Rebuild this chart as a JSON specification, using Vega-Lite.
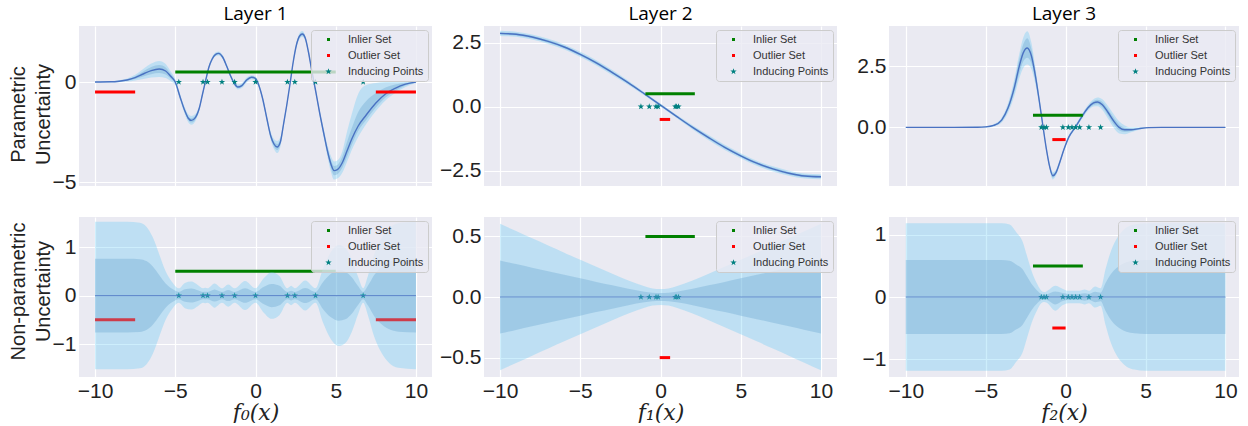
{
"$schema": "https://vega.github.io/schema/vega-lite/v6.json",
"padding": {"left": 8, "top": 5, "right": 0, "bottom": 0},
"columns": 3,
"bounds": "flush",
"spacing": {"row": 31, "column": 52},
"resolve": {"scale": {"color": "independent", "shape": "independent", "stroke": "independent"}, "legend": {"color": "independent", "shape": "independent"}},
"datasets": {
"tl": [
{"x":-10,"m":0,"lo2":-0.02,"lo1":-0.01,"hi1":0.01,"hi2":0.02},
{"x":-9,"m":0.01,"lo2":-0.02,"lo1":-0.005,"hi1":0.025,"hi2":0.04},
{"x":-8.5,"m":0.04,"lo2":-0.01,"lo1":0.015,"hi1":0.065,"hi2":0.09},
{"x":-8,"m":0.1,"lo2":0.02,"lo1":0.06,"hi1":0.14,"hi2":0.18},
{"x":-7.5,"m":0.22,"lo2":0.08,"lo1":0.15,"hi1":0.29,"hi2":0.36},
{"x":-7,"m":0.4,"lo2":0.15,"lo1":0.27,"hi1":0.53,"hi2":0.65},
{"x":-6.5,"m":0.57,"lo2":0.22,"lo1":0.39,"hi1":0.75,"hi2":0.92},
{"x":-6,"m":0.65,"lo2":0.25,"lo1":0.45,"hi1":0.85,"hi2":1.05},
{"x":-5.6,"m":0.55,"lo2":0.2,"lo1":0.37,"hi1":0.73,"hi2":0.9},
{"x":-5.3,"m":0.3,"lo2":0.05,"lo1":0.18,"hi1":0.42,"hi2":0.55},
{"x":-5,"m":0.0,"lo2":-0.15,"lo1":-0.08,"hi1":0.08,"hi2":0.15},
{"x":-4.7,"m":-0.75,"lo2":-0.9,"lo1":-0.83,"hi1":-0.67,"hi2":-0.6},
{"x":-4.4,"m":-1.45,"lo2":-1.62,"lo1":-1.54,"hi1":-1.36,"hi2":-1.28},
{"x":-4.2,"m":-1.8,"lo2":-2.0,"lo1":-1.9,"hi1":-1.7,"hi2":-1.6},
{"x":-4.0,"m":-1.92,"lo2":-2.14,"lo1":-2.03,"hi1":-1.81,"hi2":-1.7},
{"x":-3.75,"m":-1.78,"lo2":-1.96,"lo1":-1.87,"hi1":-1.69,"hi2":-1.6},
{"x":-3.5,"m":-1.3,"lo2":-1.42,"lo1":-1.36,"hi1":-1.24,"hi2":-1.18},
{"x":-3.3,"m":-0.6,"lo2":-0.7,"lo1":-0.65,"hi1":-0.55,"hi2":-0.5},
{"x":-3.1,"m":0.1,"lo2":0.0,"lo1":0.05,"hi1":0.15,"hi2":0.2},
{"x":-2.9,"m":0.75,"lo2":0.65,"lo1":0.7,"hi1":0.8,"hi2":0.85},
{"x":-2.7,"m":1.15,"lo2":1.05,"lo1":1.1,"hi1":1.2,"hi2":1.25},
{"x":-2.5,"m":1.37,"lo2":1.27,"lo1":1.32,"hi1":1.42,"hi2":1.47},
{"x":-2.3,"m":1.43,"lo2":1.33,"lo1":1.38,"hi1":1.48,"hi2":1.53},
{"x":-2.05,"m":1.25,"lo2":1.15,"lo1":1.2,"hi1":1.3,"hi2":1.35},
{"x":-1.8,"m":0.8,"lo2":0.7,"lo1":0.75,"hi1":0.85,"hi2":0.9},
{"x":-1.55,"m":0.3,"lo2":0.2,"lo1":0.25,"hi1":0.35,"hi2":0.4},
{"x":-1.3,"m":-0.1,"lo2":-0.2,"lo1":-0.15,"hi1":-0.05,"hi2":0.0},
{"x":-1.1,"m":-0.25,"lo2":-0.37,"lo1":-0.31,"hi1":-0.19,"hi2":-0.13},
{"x":-0.85,"m":-0.18,"lo2":-0.3,"lo1":-0.24,"hi1":-0.12,"hi2":-0.06},
{"x":-0.55,"m":0.1,"lo2":-0.02,"lo1":0.04,"hi1":0.16,"hi2":0.22},
{"x":-0.25,"m":0.24,"lo2":0.14,"lo1":0.19,"hi1":0.29,"hi2":0.34},
{"x":0.0,"m":0.18,"lo2":0.08,"lo1":0.13,"hi1":0.23,"hi2":0.28},
{"x":0.2,"m":-0.15,"lo2":-0.25,"lo1":-0.2,"hi1":-0.1,"hi2":-0.05},
{"x":0.45,"m":-0.85,"lo2":-0.97,"lo1":-0.91,"hi1":-0.79,"hi2":-0.73},
{"x":0.7,"m":-1.8,"lo2":-1.95,"lo1":-1.88,"hi1":-1.72,"hi2":-1.65},
{"x":0.95,"m":-2.7,"lo2":-2.9,"lo1":-2.8,"hi1":-2.6,"hi2":-2.5},
{"x":1.15,"m":-3.1,"lo2":-3.35,"lo1":-3.22,"hi1":-2.98,"hi2":-2.85},
{"x":1.35,"m":-3.25,"lo2":-3.55,"lo1":-3.4,"hi1":-3.1,"hi2":-2.95},
{"x":1.55,"m":-3.0,"lo2":-3.25,"lo1":-3.12,"hi1":-2.88,"hi2":-2.75},
{"x":1.75,"m":-2.1,"lo2":-2.25,"lo1":-2.18,"hi1":-2.02,"hi2":-1.95},
{"x":1.95,"m":-1.15,"lo2":-1.27,"lo1":-1.21,"hi1":-1.09,"hi2":-1.03},
{"x":2.15,"m":-0.1,"lo2":-0.2,"lo1":-0.15,"hi1":-0.05,"hi2":0.0},
{"x":2.35,"m":1.0,"lo2":0.9,"lo1":0.95,"hi1":1.05,"hi2":1.1},
{"x":2.55,"m":1.85,"lo2":1.73,"lo1":1.79,"hi1":1.91,"hi2":1.97},
{"x":2.75,"m":2.3,"lo2":2.15,"lo1":2.23,"hi1":2.37,"hi2":2.45},
{"x":2.92,"m":2.4,"lo2":2.25,"lo1":2.33,"hi1":2.47,"hi2":2.55},
{"x":3.1,"m":2.2,"lo2":2.08,"lo1":2.14,"hi1":2.26,"hi2":2.32},
{"x":3.3,"m":1.5,"lo2":1.4,"lo1":1.45,"hi1":1.55,"hi2":1.6},
{"x":3.5,"m":0.6,"lo2":0.5,"lo1":0.55,"hi1":0.65,"hi2":0.7},
{"x":3.75,"m":-0.45,"lo2":-0.55,"lo1":-0.5,"hi1":-0.4,"hi2":-0.35},
{"x":4.0,"m":-1.55,"lo2":-1.7,"lo1":-1.63,"hi1":-1.47,"hi2":-1.4},
{"x":4.25,"m":-2.55,"lo2":-2.75,"lo1":-2.65,"hi1":-2.45,"hi2":-2.35},
{"x":4.5,"m":-3.5,"lo2":-3.8,"lo1":-3.65,"hi1":-3.35,"hi2":-3.2},
{"x":4.7,"m":-4.1,"lo2":-4.5,"lo1":-4.3,"hi1":-3.9,"hi2":-3.7},
{"x":4.9,"m":-4.43,"lo2":-4.88,"lo1":-4.66,"hi1":-4.2,"hi2":-3.98},
{"x":5.1,"m":-4.38,"lo2":-4.83,"lo1":-4.61,"hi1":-4.15,"hi2":-3.93},
{"x":5.4,"m":-4.05,"lo2":-4.55,"lo1":-4.3,"hi1":-3.75,"hi2":-3.5},
{"x":5.7,"m":-3.45,"lo2":-4.0,"lo1":-3.75,"hi1":-3.0,"hi2":-2.5},
{"x":6.0,"m":-2.85,"lo2":-3.4,"lo1":-3.15,"hi1":-2.3,"hi2":-1.6},
{"x":6.4,"m":-2.2,"lo2":-2.75,"lo1":-2.45,"hi1":-1.5,"hi2":-0.6},
{"x":6.9,"m":-1.65,"lo2":-2.1,"lo1":-1.9,"hi1":-0.95,"hi2":-0.15},
{"x":7.5,"m":-1.05,"lo2":-1.45,"lo1":-1.28,"hi1":-0.55,"hi2":-0.05},
{"x":8.1,"m":-0.6,"lo2":-0.92,"lo1":-0.78,"hi1":-0.28,"hi2":0.0},
{"x":8.7,"m":-0.32,"lo2":-0.55,"lo1":-0.45,"hi1":-0.13,"hi2":0.0},
{"x":9.35,"m":-0.11,"lo2":-0.25,"lo1":-0.18,"hi1":-0.04,"hi2":0.0},
{"x":10,"m":0,"lo2":-0.05,"lo1":-0.03,"hi1":0.0,"hi2":0.0}
],
"tm": [
{"x":-10,"m":2.86,"lo2":2.76,"lo1":2.81,"hi1":2.91,"hi2":2.96},
{"x":-9,"m":2.83,"lo2":2.73,"lo1":2.78,"hi1":2.88,"hi2":2.93},
{"x":-8,"m":2.72,"lo2":2.62,"lo1":2.67,"hi1":2.77,"hi2":2.82},
{"x":-7,"m":2.55,"lo2":2.45,"lo1":2.5,"hi1":2.6,"hi2":2.65},
{"x":-6,"m":2.33,"lo2":2.23,"lo1":2.28,"hi1":2.38,"hi2":2.43},
{"x":-5,"m":2.04,"lo2":1.94,"lo1":1.99,"hi1":2.09,"hi2":2.14},
{"x":-4,"m":1.71,"lo2":1.61,"lo1":1.66,"hi1":1.76,"hi2":1.81},
{"x":-3,"m":1.33,"lo2":1.23,"lo1":1.28,"hi1":1.38,"hi2":1.43},
{"x":-2,"m":0.93,"lo2":0.85,"lo1":0.89,"hi1":0.97,"hi2":1.01},
{"x":-1,"m":0.5,"lo2":0.44,"lo1":0.47,"hi1":0.53,"hi2":0.56},
{"x":0,"m":0.06,"lo2":0.0,"lo1":0.03,"hi1":0.09,"hi2":0.12},
{"x":1,"m":-0.38,"lo2":-0.44,"lo1":-0.41,"hi1":-0.35,"hi2":-0.32},
{"x":2,"m":-0.81,"lo2":-0.89,"lo1":-0.85,"hi1":-0.77,"hi2":-0.73},
{"x":3,"m":-1.21,"lo2":-1.31,"lo1":-1.26,"hi1":-1.16,"hi2":-1.11},
{"x":4,"m":-1.59,"lo2":-1.69,"lo1":-1.64,"hi1":-1.54,"hi2":-1.49},
{"x":5,"m":-1.92,"lo2":-2.02,"lo1":-1.97,"hi1":-1.87,"hi2":-1.82},
{"x":6,"m":-2.21,"lo2":-2.31,"lo1":-2.26,"hi1":-2.16,"hi2":-2.11},
{"x":7,"m":-2.43,"lo2":-2.53,"lo1":-2.48,"hi1":-2.38,"hi2":-2.33},
{"x":8,"m":-2.6,"lo2":-2.7,"lo1":-2.65,"hi1":-2.55,"hi2":-2.5},
{"x":9,"m":-2.71,"lo2":-2.81,"lo1":-2.76,"hi1":-2.66,"hi2":-2.61},
{"x":10,"m":-2.74,"lo2":-2.84,"lo1":-2.79,"hi1":-2.69,"hi2":-2.64}
],
"tr": [
{"x":-10,"m":0,"lo2":-0.02,"lo1":-0.01,"hi1":0.01,"hi2":0.02},
{"x":-7,"m":0,"lo2":-0.02,"lo1":-0.01,"hi1":0.01,"hi2":0.02},
{"x":-5.5,"m":0.005,"lo2":-0.015,"lo1":-0.005,"hi1":0.015,"hi2":0.025},
{"x":-5,"m":0.02,"lo2":-0.01,"lo1":0.005,"hi1":0.035,"hi2":0.05},
{"x":-4.5,"m":0.08,"lo2":0.03,"lo1":0.055,"hi1":0.105,"hi2":0.13},
{"x":-4.0,"m":0.3,"lo2":0.2,"lo1":0.25,"hi1":0.35,"hi2":0.4},
{"x":-3.6,"m":0.8,"lo2":0.6,"lo1":0.7,"hi1":0.9,"hi2":1.0},
{"x":-3.2,"m":1.65,"lo2":1.3,"lo1":1.45,"hi1":1.85,"hi2":2.0},
{"x":-2.9,"m":2.5,"lo2":2.0,"lo1":2.2,"hi1":2.8,"hi2":3.0},
{"x":-2.65,"m":3.05,"lo2":2.43,"lo1":2.7,"hi1":3.4,"hi2":3.67},
{"x":-2.4,"m":3.25,"lo2":2.57,"lo1":2.85,"hi1":3.65,"hi2":3.93},
{"x":-2.15,"m":2.95,"lo2":2.4,"lo1":2.65,"hi1":3.25,"hi2":3.5},
{"x":-1.9,"m":2.15,"lo2":1.8,"lo1":1.95,"hi1":2.35,"hi2":2.5},
{"x":-1.65,"m":1.1,"lo2":0.9,"lo1":1.0,"hi1":1.2,"hi2":1.3},
{"x":-1.45,"m":0.2,"lo2":0.08,"lo1":0.14,"hi1":0.26,"hi2":0.32},
{"x":-1.2,"m":-0.9,"lo2":-1.0,"lo1":-0.95,"hi1":-0.85,"hi2":-0.8},
{"x":-1.0,"m":-1.6,"lo2":-1.72,"lo1":-1.66,"hi1":-1.54,"hi2":-1.48},
{"x":-0.8,"m":-1.98,"lo2":-2.13,"lo1":-2.06,"hi1":-1.9,"hi2":-1.83},
{"x":-0.6,"m":-1.85,"lo2":-1.97,"lo1":-1.91,"hi1":-1.79,"hi2":-1.73},
{"x":-0.4,"m":-1.5,"lo2":-1.6,"lo1":-1.55,"hi1":-1.45,"hi2":-1.4},
{"x":-0.1,"m":-0.9,"lo2":-0.98,"lo1":-0.94,"hi1":-0.86,"hi2":-0.82},
{"x":0.2,"m":-0.4,"lo2":-0.48,"lo1":-0.44,"hi1":-0.36,"hi2":-0.32},
{"x":0.6,"m":0.0,"lo2":-0.08,"lo1":-0.04,"hi1":0.04,"hi2":0.08},
{"x":1.0,"m":0.42,"lo2":0.32,"lo1":0.37,"hi1":0.47,"hi2":0.52},
{"x":1.4,"m":0.8,"lo2":0.68,"lo1":0.74,"hi1":0.86,"hi2":0.92},
{"x":1.75,"m":1.0,"lo2":0.85,"lo1":0.92,"hi1":1.08,"hi2":1.15},
{"x":2.0,"m":1.04,"lo2":0.86,"lo1":0.95,"hi1":1.13,"hi2":1.22},
{"x":2.3,"m":0.93,"lo2":0.71,"lo1":0.82,"hi1":1.04,"hi2":1.15},
{"x":2.65,"m":0.62,"lo2":0.36,"lo1":0.49,"hi1":0.75,"hi2":0.88},
{"x":3.0,"m":0.27,"lo2":-0.01,"lo1":0.13,"hi1":0.41,"hi2":0.55},
{"x":3.35,"m":0.0,"lo2":-0.25,"lo1":-0.12,"hi1":0.12,"hi2":0.25},
{"x":3.7,"m":-0.1,"lo2":-0.28,"lo1":-0.19,"hi1":-0.01,"hi2":0.08},
{"x":4.1,"m":-0.1,"lo2":-0.2,"lo1":-0.15,"hi1":-0.05,"hi2":0.0},
{"x":4.6,"m":-0.05,"lo2":-0.1,"lo1":-0.075,"hi1":-0.025,"hi2":0.0},
{"x":5.2,"m":-0.01,"lo2":-0.03,"lo1":-0.02,"hi1":0.0,"hi2":0.01},
{"x":6,"m":0,"lo2":-0.02,"lo1":-0.01,"hi1":0.01,"hi2":0.02},
{"x":10,"m":0,"lo2":-0.02,"lo1":-0.01,"hi1":0.01,"hi2":0.02}
],
"bl": [
{"x":-10,"m":0,"lo2":-1.52,"lo1":-0.76,"hi1":0.76,"hi2":1.52},
{"x":-8,"m":0,"lo2":-1.52,"lo1":-0.76,"hi1":0.76,"hi2":1.52},
{"x":-7.2,"m":0,"lo2":-1.5,"lo1":-0.75,"hi1":0.75,"hi2":1.5},
{"x":-6.8,"m":0,"lo2":-1.42,"lo1":-0.71,"hi1":0.71,"hi2":1.42},
{"x":-6.4,"m":0,"lo2":-1.2,"lo1":-0.6,"hi1":0.6,"hi2":1.2},
{"x":-6.0,"m":0,"lo2":-0.85,"lo1":-0.425,"hi1":0.425,"hi2":0.85},
{"x":-5.6,"m":0,"lo2":-0.5,"lo1":-0.25,"hi1":0.25,"hi2":0.5},
{"x":-5.2,"m":0,"lo2":-0.28,"lo1":-0.14,"hi1":0.14,"hi2":0.28},
{"x":-4.78,"m":0,"lo2":-0.15,"lo1":-0.075,"hi1":0.075,"hi2":0.15},
{"x":-4.4,"m":0,"lo2":-0.26,"lo1":-0.13,"hi1":0.13,"hi2":0.26},
{"x":-4.0,"m":0,"lo2":-0.29,"lo1":-0.145,"hi1":0.145,"hi2":0.29},
{"x":-3.6,"m":0,"lo2":-0.22,"lo1":-0.11,"hi1":0.11,"hi2":0.22},
{"x":-3.27,"m":0,"lo2":-0.15,"lo1":-0.075,"hi1":0.075,"hi2":0.15},
{"x":-3.13,"m":0,"lo2":-0.16,"lo1":-0.08,"hi1":0.08,"hi2":0.16},
{"x":-2.99,"m":0,"lo2":-0.15,"lo1":-0.075,"hi1":0.075,"hi2":0.15},
{"x":-2.55,"m":0,"lo2":-0.25,"lo1":-0.125,"hi1":0.125,"hi2":0.25},
{"x":-2.09,"m":0,"lo2":-0.15,"lo1":-0.075,"hi1":0.075,"hi2":0.15},
{"x":-1.7,"m":0,"lo2":-0.23,"lo1":-0.115,"hi1":0.115,"hi2":0.23},
{"x":-1.3,"m":0,"lo2":-0.15,"lo1":-0.075,"hi1":0.075,"hi2":0.15},
{"x":-0.65,"m":0,"lo2":-0.3,"lo1":-0.15,"hi1":0.15,"hi2":0.3},
{"x":0,"m":0,"lo2":-0.15,"lo1":-0.075,"hi1":0.075,"hi2":0.15},
{"x":0.5,"m":0,"lo2":-0.35,"lo1":-0.175,"hi1":0.175,"hi2":0.35},
{"x":1.0,"m":0,"lo2":-0.48,"lo1":-0.24,"hi1":0.24,"hi2":0.48},
{"x":1.5,"m":0,"lo2":-0.4,"lo1":-0.2,"hi1":0.2,"hi2":0.4},
{"x":1.99,"m":0,"lo2":-0.15,"lo1":-0.075,"hi1":0.075,"hi2":0.15},
{"x":2.22,"m":0,"lo2":-0.2,"lo1":-0.1,"hi1":0.1,"hi2":0.2},
{"x":2.45,"m":0,"lo2":-0.15,"lo1":-0.075,"hi1":0.075,"hi2":0.15},
{"x":3.1,"m":0,"lo2":-0.31,"lo1":-0.155,"hi1":0.155,"hi2":0.31},
{"x":3.74,"m":0,"lo2":-0.15,"lo1":-0.075,"hi1":0.075,"hi2":0.15},
{"x":4.2,"m":0,"lo2":-0.55,"lo1":-0.275,"hi1":0.275,"hi2":0.55},
{"x":4.7,"m":0,"lo2":-0.9,"lo1":-0.45,"hi1":0.45,"hi2":0.9},
{"x":5.2,"m":0,"lo2":-1.04,"lo1":-0.52,"hi1":0.52,"hi2":1.04},
{"x":5.6,"m":0,"lo2":-0.98,"lo1":-0.49,"hi1":0.49,"hi2":0.98},
{"x":6.0,"m":0,"lo2":-0.75,"lo1":-0.375,"hi1":0.375,"hi2":0.75},
{"x":6.4,"m":0,"lo2":-0.38,"lo1":-0.19,"hi1":0.19,"hi2":0.38},
{"x":6.71,"m":0,"lo2":-0.15,"lo1":-0.075,"hi1":0.075,"hi2":0.15},
{"x":7.0,"m":0,"lo2":-0.4,"lo1":-0.2,"hi1":0.2,"hi2":0.4},
{"x":7.4,"m":0,"lo2":-0.85,"lo1":-0.425,"hi1":0.425,"hi2":0.85},
{"x":7.8,"m":0,"lo2":-1.15,"lo1":-0.575,"hi1":0.575,"hi2":1.15},
{"x":8.3,"m":0,"lo2":-1.38,"lo1":-0.69,"hi1":0.69,"hi2":1.38},
{"x":8.9,"m":0,"lo2":-1.49,"lo1":-0.745,"hi1":0.745,"hi2":1.49},
{"x":10,"m":0,"lo2":-1.52,"lo1":-0.76,"hi1":0.76,"hi2":1.52}
],
"bm": [
{"x":-10,"m":0,"lo2":-0.604,"lo1":-0.302,"hi1":0.302,"hi2":0.604},
{"x":-9,"m":0,"lo2":-0.544,"lo1":-0.272,"hi1":0.272,"hi2":0.544},
{"x":-8,"m":0,"lo2":-0.484,"lo1":-0.242,"hi1":0.242,"hi2":0.484},
{"x":-7,"m":0,"lo2":-0.425,"lo1":-0.213,"hi1":0.213,"hi2":0.425},
{"x":-6,"m":0,"lo2":-0.366,"lo1":-0.183,"hi1":0.183,"hi2":0.366},
{"x":-5,"m":0,"lo2":-0.307,"lo1":-0.154,"hi1":0.154,"hi2":0.307},
{"x":-4,"m":0,"lo2":-0.249,"lo1":-0.124,"hi1":0.124,"hi2":0.249},
{"x":-3,"m":0,"lo2":-0.191,"lo1":-0.096,"hi1":0.096,"hi2":0.191},
{"x":-2,"m":0,"lo2":-0.136,"lo1":-0.068,"hi1":0.068,"hi2":0.136},
{"x":-1,"m":0,"lo2":-0.089,"lo1":-0.044,"hi1":0.044,"hi2":0.089},
{"x":-0.5,"m":0,"lo2":-0.071,"lo1":-0.036,"hi1":0.036,"hi2":0.071},
{"x":0,"m":0,"lo2":-0.065,"lo1":-0.033,"hi1":0.033,"hi2":0.065},
{"x":0.5,"m":0,"lo2":-0.071,"lo1":-0.036,"hi1":0.036,"hi2":0.071},
{"x":1,"m":0,"lo2":-0.089,"lo1":-0.044,"hi1":0.044,"hi2":0.089},
{"x":2,"m":0,"lo2":-0.136,"lo1":-0.068,"hi1":0.068,"hi2":0.136},
{"x":3,"m":0,"lo2":-0.191,"lo1":-0.096,"hi1":0.096,"hi2":0.191},
{"x":4,"m":0,"lo2":-0.249,"lo1":-0.124,"hi1":0.124,"hi2":0.249},
{"x":5,"m":0,"lo2":-0.307,"lo1":-0.154,"hi1":0.154,"hi2":0.307},
{"x":6,"m":0,"lo2":-0.366,"lo1":-0.183,"hi1":0.183,"hi2":0.366},
{"x":7,"m":0,"lo2":-0.425,"lo1":-0.213,"hi1":0.213,"hi2":0.425},
{"x":8,"m":0,"lo2":-0.484,"lo1":-0.242,"hi1":0.242,"hi2":0.484},
{"x":9,"m":0,"lo2":-0.544,"lo1":-0.272,"hi1":0.272,"hi2":0.544},
{"x":10,"m":0,"lo2":-0.604,"lo1":-0.302,"hi1":0.302,"hi2":0.604}
],
"br": [
{"x":-10,"m":0,"lo2":-1.19,"lo1":-0.595,"hi1":0.595,"hi2":1.19},
{"x":-4,"m":0,"lo2":-1.19,"lo1":-0.595,"hi1":0.595,"hi2":1.19},
{"x":-3.5,"m":0,"lo2":-1.17,"lo1":-0.585,"hi1":0.585,"hi2":1.17},
{"x":-3.1,"m":0,"lo2":-1.05,"lo1":-0.525,"hi1":0.525,"hi2":1.05},
{"x":-2.7,"m":0,"lo2":-0.9,"lo1":-0.45,"hi1":0.45,"hi2":0.9},
{"x":-2.4,"m":0,"lo2":-0.65,"lo1":-0.325,"hi1":0.325,"hi2":0.65},
{"x":-2.1,"m":0,"lo2":-0.4,"lo1":-0.2,"hi1":0.2,"hi2":0.4},
{"x":-1.8,"m":0,"lo2":-0.22,"lo1":-0.11,"hi1":0.11,"hi2":0.22},
{"x":-1.52,"m":0,"lo2":-0.1,"lo1":-0.05,"hi1":0.05,"hi2":0.1},
{"x":-1.35,"m":0,"lo2":-0.08,"lo1":-0.04,"hi1":0.04,"hi2":0.08},
{"x":-1.2,"m":0,"lo2":-0.09,"lo1":-0.045,"hi1":0.045,"hi2":0.09},
{"x":-0.65,"m":0,"lo2":-0.22,"lo1":-0.12,"hi1":0.09,"hi2":0.18},
{"x":-0.17,"m":0,"lo2":-0.13,"lo1":-0.065,"hi1":0.065,"hi2":0.13},
{"x":0.17,"m":0,"lo2":-0.1,"lo1":-0.05,"hi1":0.05,"hi2":0.1},
{"x":0.5,"m":0,"lo2":-0.1,"lo1":-0.05,"hi1":0.05,"hi2":0.1},
{"x":0.88,"m":0,"lo2":-0.1,"lo1":-0.05,"hi1":0.05,"hi2":0.1},
{"x":1.2,"m":0,"lo2":-0.12,"lo1":-0.06,"hi1":0.06,"hi2":0.12},
{"x":1.46,"m":0,"lo2":-0.1,"lo1":-0.05,"hi1":0.05,"hi2":0.1},
{"x":1.85,"m":0,"lo2":-0.17,"lo1":-0.085,"hi1":0.085,"hi2":0.17},
{"x":2.19,"m":0,"lo2":-0.14,"lo1":-0.07,"hi1":0.07,"hi2":0.14},
{"x":2.5,"m":0,"lo2":-0.45,"lo1":-0.225,"hi1":0.225,"hi2":0.45},
{"x":2.85,"m":0,"lo2":-0.75,"lo1":-0.375,"hi1":0.375,"hi2":0.75},
{"x":3.15,"m":0,"lo2":-0.92,"lo1":-0.46,"hi1":0.46,"hi2":0.92},
{"x":3.5,"m":0,"lo2":-1.05,"lo1":-0.525,"hi1":0.525,"hi2":1.05},
{"x":3.8,"m":0,"lo2":-1.12,"lo1":-0.56,"hi1":0.56,"hi2":1.12},
{"x":4.3,"m":0,"lo2":-1.17,"lo1":-0.585,"hi1":0.585,"hi2":1.17},
{"x":5,"m":0,"lo2":-1.19,"lo1":-0.595,"hi1":0.595,"hi2":1.19},
{"x":10,"m":0,"lo2":-1.19,"lo1":-0.595,"hi1":0.595,"hi2":1.19}
],
"s1": [
{"x":-4.78,"y":0,"set":"Inducing Points"},{"x":-3.27,"y":0,"set":"Inducing Points"},{"x":-2.99,"y":0,"set":"Inducing Points"},{"x":-2.09,"y":0,"set":"Inducing Points"},{"x":-1.3,"y":0,"set":"Inducing Points"},{"x":0,"y":0,"set":"Inducing Points"},{"x":1.99,"y":0,"set":"Inducing Points"},{"x":2.45,"y":0,"set":"Inducing Points"},{"x":3.74,"y":0,"set":"Inducing Points"},{"x":6.71,"y":0,"set":"Inducing Points"}
],
"s2": [
{"x":-1.22,"y":0,"set":"Inducing Points"},{"x":-0.7,"y":0,"set":"Inducing Points"},{"x":-0.28,"y":0,"set":"Inducing Points"},{"x":-0.15,"y":0,"set":"Inducing Points"},{"x":0.92,"y":0,"set":"Inducing Points"},{"x":1.0,"y":0,"set":"Inducing Points"},{"x":1.12,"y":0,"set":"Inducing Points"}
],
"s3": [
{"x":-1.52,"y":0,"set":"Inducing Points"},{"x":-1.35,"y":0,"set":"Inducing Points"},{"x":-1.2,"y":0,"set":"Inducing Points"},{"x":-0.17,"y":0,"set":"Inducing Points"},{"x":0.17,"y":0,"set":"Inducing Points"},{"x":0.4,"y":0,"set":"Inducing Points"},{"x":0.63,"y":0,"set":"Inducing Points"},{"x":0.88,"y":0,"set":"Inducing Points"},{"x":1.46,"y":0,"set":"Inducing Points"},{"x":2.19,"y":0,"set":"Inducing Points"}
],
"sets1": [
{"set":"Inlier Set","x0":-5,"x1":5,"y":0.5},
{"set":"Outlier Set","x0":-10,"x1":-7.5,"y":-0.5},
{"set":"Outlier Set","x0":7.5,"x1":10,"y":-0.5}
],
"sets2": [
{"set":"Inlier Set","x0":-0.94,"x1":2.14,"y":0.5},
{"set":"Outlier Set","x0":-0.05,"x1":0.6,"y":-0.5}
],
"sets3": [
{"set":"Inlier Set","x0":-2.04,"x1":1.08,"y":0.5},
{"set":"Outlier Set","x0":-0.83,"x1":0.0,"y":-0.5}
]
},
"concat": [
{
"width": 353, "height": 160,
"title": "Layer 1",
"layer": [
{"data": {"name": "tl"}, "mark": {"type": "area", "color": "#6C94BF", "opacity": 0.35, "interpolate": "monotone"},
 "encoding": {"x": {"field": "x", "type": "quantitative", "scale": {"domain": [-11, 11], "nice": false, "zero": false}, "axis": {"values": [-10, -5, 0, 5, 10], "labels": false, "title": null}},
  "y": {"field": "lo1", "type": "quantitative", "scale": {"domain": [-5.2, 2.8], "nice": false, "zero": false}, "axis": {"values": [-5, 0], "format": "d", "title": ["Parametric", "Uncertainty"], "titleY": 88, "minExtent": 26, "maxExtent": 26}},
  "y2": {"field": "hi1"}}},
{"data": {"name": "tl"}, "mark": {"type": "area", "color": "#5AC8F5", "opacity": 0.3, "interpolate": "monotone"},
 "encoding": {"x": {"field": "x", "type": "quantitative"}, "y": {"field": "lo2", "type": "quantitative"}, "y2": {"field": "hi2"}}},
{"data": {"name": "tl"}, "mark": {"type": "line", "color": "#4A72C2", "strokeWidth": 1.4, "interpolate": "monotone"},
 "encoding": {"x": {"field": "x", "type": "quantitative"}, "y": {"field": "m", "type": "quantitative"}}},
{"data": {"name": "sets1"}, "mark": {"type": "rule", "strokeWidth": 3},
 "encoding": {"x": {"field": "x0", "type": "quantitative"}, "x2": {"field": "x1"}, "y": {"field": "y", "type": "quantitative"},
  "stroke": {"field": "set", "type": "nominal", "scale": {"domain": ["Inlier Set", "Outlier Set"], "range": ["#008000", "#FF0000"]}, "legend": null}}},
{"data": {"name": "s1"}, "mark": {"type": "point", "filled": true, "opacity": 1, "size": 45},
 "encoding": {"x": {"field": "x", "type": "quantitative"}, "y": {"field": "y", "type": "quantitative"},
  "color": {"field": "set", "type": "nominal", "scale": {"domain": ["Inlier Set", "Outlier Set", "Inducing Points"], "range": ["#008000", "#FF0000", "#008080"]}, "legend": {"title": null, "zindex": 1}},
  "shape": {"field": "set", "type": "nominal", "scale": {"domain": ["Inlier Set", "Outlier Set", "Inducing Points"], "range": ["M-0.45,-0.45H0.45V0.45H-0.45Z", "M-0.45,-0.45H0.45V0.45H-0.45Z", "M0,-1L0.235,-0.324L0.951,-0.309L0.38,0.124L0.588,0.809L0,0.4L-0.588,0.809L-0.38,0.124L-0.951,-0.309L-0.235,-0.324Z"]}, "legend": {"title": null, "zindex": 1}}}}
]
},
{
"width": 353, "height": 160,
"title": "Layer 2",
"layer": [
{"data": {"name": "tm"}, "mark": {"type": "area", "color": "#6C94BF", "opacity": 0.35, "interpolate": "monotone"},
 "encoding": {"x": {"field": "x", "type": "quantitative", "scale": {"domain": [-11, 11], "nice": false, "zero": false}, "axis": {"values": [-10, -5, 0, 5, 10], "labels": false, "title": null}},
  "y": {"field": "lo1", "type": "quantitative", "scale": {"domain": [-3.1, 3.15], "nice": false, "zero": false}, "axis": {"values": [-2.5, 0, 2.5], "format": ".1f", "title": null}},
  "y2": {"field": "hi1"}}},
{"data": {"name": "tm"}, "mark": {"type": "area", "color": "#5AC8F5", "opacity": 0.3, "interpolate": "monotone"},
 "encoding": {"x": {"field": "x", "type": "quantitative"}, "y": {"field": "lo2", "type": "quantitative"}, "y2": {"field": "hi2"}}},
{"data": {"name": "tm"}, "mark": {"type": "line", "color": "#4A72C2", "strokeWidth": 1.4, "interpolate": "monotone"},
 "encoding": {"x": {"field": "x", "type": "quantitative"}, "y": {"field": "m", "type": "quantitative"}}},
{"data": {"name": "sets2"}, "mark": {"type": "rule", "strokeWidth": 3},
 "encoding": {"x": {"field": "x0", "type": "quantitative"}, "x2": {"field": "x1"}, "y": {"field": "y", "type": "quantitative"},
  "stroke": {"field": "set", "type": "nominal", "scale": {"domain": ["Inlier Set", "Outlier Set"], "range": ["#008000", "#FF0000"]}, "legend": null}}},
{"data": {"name": "s2"}, "mark": {"type": "point", "filled": true, "opacity": 1, "size": 45},
 "encoding": {"x": {"field": "x", "type": "quantitative"}, "y": {"field": "y", "type": "quantitative"},
  "color": {"field": "set", "type": "nominal", "scale": {"domain": ["Inlier Set", "Outlier Set", "Inducing Points"], "range": ["#008000", "#FF0000", "#008080"]}, "legend": {"title": null, "zindex": 1}},
  "shape": {"field": "set", "type": "nominal", "scale": {"domain": ["Inlier Set", "Outlier Set", "Inducing Points"], "range": ["M-0.45,-0.45H0.45V0.45H-0.45Z", "M-0.45,-0.45H0.45V0.45H-0.45Z", "M0,-1L0.235,-0.324L0.951,-0.309L0.38,0.124L0.588,0.809L0,0.4L-0.588,0.809L-0.38,0.124L-0.951,-0.309L-0.235,-0.324Z"]}, "legend": {"title": null, "zindex": 1}}}}
]
},
{
"width": 350, "height": 160,
"title": "Layer 3",
"layer": [
{"data": {"name": "tr"}, "mark": {"type": "area", "color": "#6C94BF", "opacity": 0.35, "interpolate": "monotone"},
 "encoding": {"x": {"field": "x", "type": "quantitative", "scale": {"domain": [-11.05, 10.85], "nice": false, "zero": false}, "axis": {"values": [-10, -5, 0, 5, 10], "labels": false, "title": null}},
  "y": {"field": "lo1", "type": "quantitative", "scale": {"domain": [-2.4, 4.15], "nice": false, "zero": false}, "axis": {"values": [0, 2.5], "format": ".1f", "title": null}},
  "y2": {"field": "hi1"}}},
{"data": {"name": "tr"}, "mark": {"type": "area", "color": "#5AC8F5", "opacity": 0.3, "interpolate": "monotone"},
 "encoding": {"x": {"field": "x", "type": "quantitative"}, "y": {"field": "lo2", "type": "quantitative"}, "y2": {"field": "hi2"}}},
{"data": {"name": "tr"}, "mark": {"type": "line", "color": "#4A72C2", "strokeWidth": 1.4, "interpolate": "monotone"},
 "encoding": {"x": {"field": "x", "type": "quantitative"}, "y": {"field": "m", "type": "quantitative"}}},
{"data": {"name": "sets3"}, "mark": {"type": "rule", "strokeWidth": 3},
 "encoding": {"x": {"field": "x0", "type": "quantitative"}, "x2": {"field": "x1"}, "y": {"field": "y", "type": "quantitative"},
  "stroke": {"field": "set", "type": "nominal", "scale": {"domain": ["Inlier Set", "Outlier Set"], "range": ["#008000", "#FF0000"]}, "legend": null}}},
{"data": {"name": "s3"}, "mark": {"type": "point", "filled": true, "opacity": 1, "size": 45},
 "encoding": {"x": {"field": "x", "type": "quantitative"}, "y": {"field": "y", "type": "quantitative"},
  "color": {"field": "set", "type": "nominal", "scale": {"domain": ["Inlier Set", "Outlier Set", "Inducing Points"], "range": ["#008000", "#FF0000", "#008080"]}, "legend": {"title": null, "zindex": 1}},
  "shape": {"field": "set", "type": "nominal", "scale": {"domain": ["Inlier Set", "Outlier Set", "Inducing Points"], "range": ["M-0.45,-0.45H0.45V0.45H-0.45Z", "M-0.45,-0.45H0.45V0.45H-0.45Z", "M0,-1L0.235,-0.324L0.951,-0.309L0.38,0.124L0.588,0.809L0,0.4L-0.588,0.809L-0.38,0.124L-0.951,-0.309L-0.235,-0.324Z"]}, "legend": {"title": null, "zindex": 1}}}}
]
},
{
"width": 353, "height": 160,
"layer": [
{"data": {"name": "bl"}, "mark": {"type": "area", "color": "#6C94BF", "opacity": 0.35, "interpolate": "monotone"},
 "encoding": {"x": {"field": "x", "type": "quantitative", "scale": {"domain": [-11, 11], "nice": false, "zero": false}, "axis": {"values": [-10, -5, 0, 5, 10], "format": "d", "title": "f₀(x)"}},
  "y": {"field": "lo1", "type": "quantitative", "scale": {"domain": [-1.68, 1.62], "nice": false, "zero": false}, "axis": {"values": [-1, 0, 1], "format": "d", "title": ["Non-parametric", "Uncertainty"], "titleY": 74, "minExtent": 26, "maxExtent": 26}},
  "y2": {"field": "hi1"}}},
{"data": {"name": "sets1"}, "mark": {"type": "rule", "strokeWidth": 3},
 "encoding": {"x": {"field": "x0", "type": "quantitative"}, "x2": {"field": "x1"}, "y": {"field": "y", "type": "quantitative"},
  "stroke": {"field": "set", "type": "nominal", "scale": {"domain": ["Inlier Set", "Outlier Set"], "range": ["#008000", "#FF0000"]}, "legend": null}}},
{"data": {"name": "s1"}, "mark": {"type": "point", "filled": true, "opacity": 1, "size": 45},
 "encoding": {"x": {"field": "x", "type": "quantitative"}, "y": {"field": "y", "type": "quantitative"},
  "color": {"field": "set", "type": "nominal", "scale": {"domain": ["Inlier Set", "Outlier Set", "Inducing Points"], "range": ["#008000", "#FF0000", "#008080"]}, "legend": {"title": null, "zindex": 1}},
  "shape": {"field": "set", "type": "nominal", "scale": {"domain": ["Inlier Set", "Outlier Set", "Inducing Points"], "range": ["M-0.45,-0.45H0.45V0.45H-0.45Z", "M-0.45,-0.45H0.45V0.45H-0.45Z", "M0,-1L0.235,-0.324L0.951,-0.309L0.38,0.124L0.588,0.809L0,0.4L-0.588,0.809L-0.38,0.124L-0.951,-0.309L-0.235,-0.324Z"]}, "legend": {"title": null, "zindex": 1}}}},
{"data": {"name": "bl"}, "mark": {"type": "area", "color": "#5AC8F5", "opacity": 0.3, "interpolate": "monotone"},
 "encoding": {"x": {"field": "x", "type": "quantitative"}, "y": {"field": "lo2", "type": "quantitative"}, "y2": {"field": "hi2"}}},
{"data": {"name": "bl"}, "mark": {"type": "line", "color": "#4A72C2", "strokeWidth": 1.2, "opacity": 0.7},
 "encoding": {"x": {"field": "x", "type": "quantitative"}, "y": {"field": "m", "type": "quantitative"}}}
]
},
{
"width": 353, "height": 160,
"layer": [
{"data": {"name": "bm"}, "mark": {"type": "area", "color": "#6C94BF", "opacity": 0.35, "interpolate": "monotone"},
 "encoding": {"x": {"field": "x", "type": "quantitative", "scale": {"domain": [-11, 11], "nice": false, "zero": false}, "axis": {"values": [-10, -5, 0, 5, 10], "format": "d", "title": "f₁(x)"}},
  "y": {"field": "lo1", "type": "quantitative", "scale": {"domain": [-0.66, 0.66], "nice": false, "zero": false}, "axis": {"values": [-0.5, 0, 0.5], "format": ".1f", "title": null}},
  "y2": {"field": "hi1"}}},
{"data": {"name": "sets2"}, "mark": {"type": "rule", "strokeWidth": 3},
 "encoding": {"x": {"field": "x0", "type": "quantitative"}, "x2": {"field": "x1"}, "y": {"field": "y", "type": "quantitative"},
  "stroke": {"field": "set", "type": "nominal", "scale": {"domain": ["Inlier Set", "Outlier Set"], "range": ["#008000", "#FF0000"]}, "legend": null}}},
{"data": {"name": "s2"}, "mark": {"type": "point", "filled": true, "opacity": 1, "size": 45},
 "encoding": {"x": {"field": "x", "type": "quantitative"}, "y": {"field": "y", "type": "quantitative"},
  "color": {"field": "set", "type": "nominal", "scale": {"domain": ["Inlier Set", "Outlier Set", "Inducing Points"], "range": ["#008000", "#FF0000", "#008080"]}, "legend": {"title": null, "zindex": 1}},
  "shape": {"field": "set", "type": "nominal", "scale": {"domain": ["Inlier Set", "Outlier Set", "Inducing Points"], "range": ["M-0.45,-0.45H0.45V0.45H-0.45Z", "M-0.45,-0.45H0.45V0.45H-0.45Z", "M0,-1L0.235,-0.324L0.951,-0.309L0.38,0.124L0.588,0.809L0,0.4L-0.588,0.809L-0.38,0.124L-0.951,-0.309L-0.235,-0.324Z"]}, "legend": {"title": null, "zindex": 1}}}},
{"data": {"name": "bm"}, "mark": {"type": "area", "color": "#5AC8F5", "opacity": 0.3, "interpolate": "monotone"},
 "encoding": {"x": {"field": "x", "type": "quantitative"}, "y": {"field": "lo2", "type": "quantitative"}, "y2": {"field": "hi2"}}},
{"data": {"name": "bm"}, "mark": {"type": "line", "color": "#4A72C2", "strokeWidth": 1.2, "opacity": 0.7},
 "encoding": {"x": {"field": "x", "type": "quantitative"}, "y": {"field": "m", "type": "quantitative"}}}
]
},
{
"width": 350, "height": 160,
"layer": [
{"data": {"name": "br"}, "mark": {"type": "area", "color": "#6C94BF", "opacity": 0.35, "interpolate": "monotone"},
 "encoding": {"x": {"field": "x", "type": "quantitative", "scale": {"domain": [-11.05, 10.85], "nice": false, "zero": false}, "axis": {"values": [-10, -5, 0, 5, 10], "format": "d", "title": "f₂(x)"}},
  "y": {"field": "lo1", "type": "quantitative", "scale": {"domain": [-1.29, 1.29], "nice": false, "zero": false}, "axis": {"values": [-1, 0, 1], "format": "d", "title": null}},
  "y2": {"field": "hi1"}}},
{"data": {"name": "sets3"}, "mark": {"type": "rule", "strokeWidth": 3},
 "encoding": {"x": {"field": "x0", "type": "quantitative"}, "x2": {"field": "x1"}, "y": {"field": "y", "type": "quantitative"},
  "stroke": {"field": "set", "type": "nominal", "scale": {"domain": ["Inlier Set", "Outlier Set"], "range": ["#008000", "#FF0000"]}, "legend": null}}},
{"data": {"name": "s3"}, "mark": {"type": "point", "filled": true, "opacity": 1, "size": 45},
 "encoding": {"x": {"field": "x", "type": "quantitative"}, "y": {"field": "y", "type": "quantitative"},
  "color": {"field": "set", "type": "nominal", "scale": {"domain": ["Inlier Set", "Outlier Set", "Inducing Points"], "range": ["#008000", "#FF0000", "#008080"]}, "legend": {"title": null, "zindex": 1}},
  "shape": {"field": "set", "type": "nominal", "scale": {"domain": ["Inlier Set", "Outlier Set", "Inducing Points"], "range": ["M-0.45,-0.45H0.45V0.45H-0.45Z", "M-0.45,-0.45H0.45V0.45H-0.45Z", "M0,-1L0.235,-0.324L0.951,-0.309L0.38,0.124L0.588,0.809L0,0.4L-0.588,0.809L-0.38,0.124L-0.951,-0.309L-0.235,-0.324Z"]}, "legend": {"title": null, "zindex": 1}}}},
{"data": {"name": "br"}, "mark": {"type": "area", "color": "#5AC8F5", "opacity": 0.3, "interpolate": "monotone"},
 "encoding": {"x": {"field": "x", "type": "quantitative"}, "y": {"field": "lo2", "type": "quantitative"}, "y2": {"field": "hi2"}}},
{"data": {"name": "br"}, "mark": {"type": "line", "color": "#4A72C2", "strokeWidth": 1.2, "opacity": 0.7},
 "encoding": {"x": {"field": "x", "type": "quantitative"}, "y": {"field": "m", "type": "quantitative"}}}
]
}
],
"config": {
"view": {"fill": "#EAEAF2", "stroke": null},
"axis": {"domain": false, "ticks": false, "tickSize": 0, "grid": true, "gridColor": "#FFFFFF", "gridWidth": 1.2, "labelFont": "Liberation Sans", "labelFontSize": 21, "labelColor": "#222222", "labelPadding": 3, "titleFont": "Liberation Sans", "titleFontSize": 20, "titleFontWeight": "normal", "titleColor": "#222222"},
"axisX": {"labelPadding": 3, "titleFont": "DejaVu Serif", "titleFontStyle": "italic", "titleFontSize": 22, "titlePadding": 1},
"axisY": {"titleLineHeight": 25, "titlePadding": 0},
"title": {"font": "Open Sans", "fontSize": 19, "fontWeight": "normal", "color": "#000000", "offset": 2, "anchor": "middle"},
"legend": {"orient": "top-right", "offset": 4, "fillColor": "rgba(234,234,242,0.8)", "strokeColor": "#CCCCCC", "cornerRadius": 3, "padding": 4, "labelFont": "Liberation Sans", "labelFontSize": 11, "labelColor": "#333333", "symbolSize": 45, "symbolOffset": 8, "labelOffset": 14, "rowPadding": 4, "symbolStrokeWidth": 0}
}
}
